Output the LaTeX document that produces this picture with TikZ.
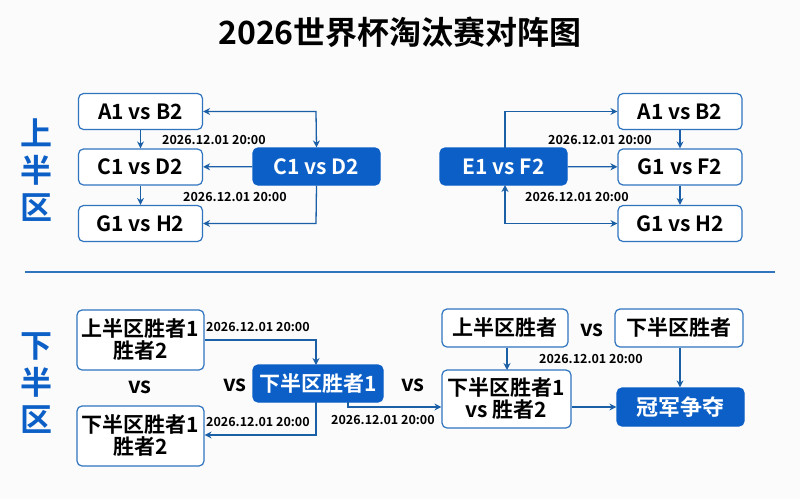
\documentclass[tikz,border=0pt]{standalone}
\usepackage{fontspec}
\setmainfont{Noto Sans CJK SC}[BoldFont={* Bold}]
\usetikzlibrary{arrows.meta}
\definecolor{bl}{HTML}{0B5FC6}
\definecolor{bd}{HTML}{2F74BE}
\definecolor{ar}{HTML}{1B5FA6}
\begin{document}
\begin{tikzpicture}[x=1pt,y=-1pt,
 box/.style={draw=bd,line width=1.2pt,rounded corners=5pt,fill=white,inner sep=0pt,font=\fontsize{21}{22}\selectfont\bfseries,align=center},
 dk/.style={box,fill=bl,draw=bl,text=white},
 dt/.style={font=\fontsize{12.5}{13}\selectfont\bfseries,inner sep=0pt},
 vs/.style={font=\fontsize{22}{24}\selectfont\bfseries,inner sep=0pt},
 side/.style={text=bl,font=\fontsize{32}{37}\selectfont\bfseries,align=center,inner sep=0pt},
 arr/.style={draw=ar,line width=1.3pt,-{Stealth[length=7pt,width=7pt]}},
 ln/.style={draw=ar,line width=1.3pt}]
\fill[white!97!gray] (0,0) rectangle (800,499);
\useasboundingbox (0,0) rectangle (800,499);
\node[font=\fontsize{32}{36}\selectfont\bfseries] (title) at (400,32) {2026世界杯淘汰赛对阵图};
\node[side] (s1) at (36,170) {上\\半\\区};
\node[side] (s2) at (36,383) {下\\半\\区};
\draw[bd,line width=1.5pt] (25,272) coordinate (d1) -- (775,272) coordinate (d2);
% top left
\node[box,minimum width=124,minimum height=36] (a) at (140.5,111.5) {A1 vs B2};
\node[box,minimum width=124,minimum height=36] (c) at (140.5,167) {C1 vs D2};
\node[box,minimum width=124,minimum height=36] (g) at (140.5,223.5) {G1 vs H2};
\node[dk,minimum width=127,minimum height=37] (cd) at (316.5,166.5) {C1 vs D2};
\draw[arr] (a) -- (c);
\draw[arr] (c) -- (g);
\draw[arr] (cd) -- (c);
\draw[arr,{Stealth[length=7pt,width=7pt]}-{Stealth[length=7pt,width=7pt]}] (a.east) -- (316,111.5) -- (cd.north);
\draw[arr] (cd.south) -- (316,223.5) -- (g.east);
\node[dt,anchor=west] (t1) at (162,140) {2026.12.01 20:00};
\node[dt,anchor=west] (t2) at (183,197) {2026.12.01 20:00};
% top right
\node[dk,minimum width=127,minimum height=37] (ef) at (503.5,166.5) {E1 vs F2};
\node[box,minimum width=124,minimum height=36] (a2) at (680,111.5) {A1 vs B2};
\node[box,minimum width=124,minimum height=36] (gf) at (680,167) {G1 vs F2};
\node[box,minimum width=124,minimum height=36] (gh) at (680,223.5) {G1 vs H2};
\draw[arr] (505,148) -- (505,111.5) -- (a2.west);
\draw[arr] (ef) -- (gf);
\draw[arr] (a2) -- (gf);
\draw[arr] (gf) -- (gh);
\draw[arr,{Stealth[length=7pt,width=7pt]}-{Stealth[length=7pt,width=7pt]}] (505,185) -- (505,223.5) -- (gh.west);
\node[dt,anchor=west] (t3) at (548,140) {2026.12.01 20:00};
\node[dt,anchor=west] (t4) at (525,197) {2026.12.01 20:00};
% bottom left
\node[box,minimum width=127,minimum height=60] (b1) at (140.5,340) {上半区胜者1\\胜者2};
\node[box,minimum width=127,minimum height=60] (b2) at (140.5,436) {下半区胜者1\\胜者2};
\node[vs] (v1) at (140,387) {vs};
\node[vs] (v2) at (235,385) {vs};
\node[vs] (v3) at (413,385) {vs};
\node[dk,minimum width=130,minimum height=37] (xw) at (318,383.5) {下半区胜者1};
\draw[arr] (b1.east |- 0,340) -- (316,340) -- (316,365);
\draw[arr] (316,402) -- (316,435) -- (b2.east |- 0,435);
\node[dt,anchor=west] (t5) at (206,327) {2026.12.01 20:00};
\node[dt,anchor=west] (t6) at (206,422) {2026.12.01 20:00};
% bottom right
\node[box,minimum width=126,minimum height=38] (sw) at (505,328) {上半区胜者};
\node[box,minimum width=128,minimum height=38] (xw2) at (679,328) {下半区胜者};
\node[vs] (v4) at (592,330) {vs};
\node[box,minimum width=129,minimum height=58] (fin) at (506.5,399) {下半区胜者1\\vs 胜者2};
\node[dk,minimum width=127,minimum height=38,font=\fontsize{22}{24}\selectfont\bfseries] (ch) at (680.5,407) {冠军争夺};
\draw[arr] (348,402) -- (348,407) -- (fin.west |- 0,407);
\node[dt,anchor=west] (t7) at (331,420) {2026.12.01 20:00};
\draw[arr] (sw.south -| 507,0) -- (507,370);
\draw[arr] (xw2.south -| 680,0) -- (ch.north -| 680,0);
\draw[arr] (fin.east |- ch) -- (ch);
\node[dt,anchor=west] (t8) at (539,359) {2026.12.01 20:00};
\end{tikzpicture}
\end{document}
